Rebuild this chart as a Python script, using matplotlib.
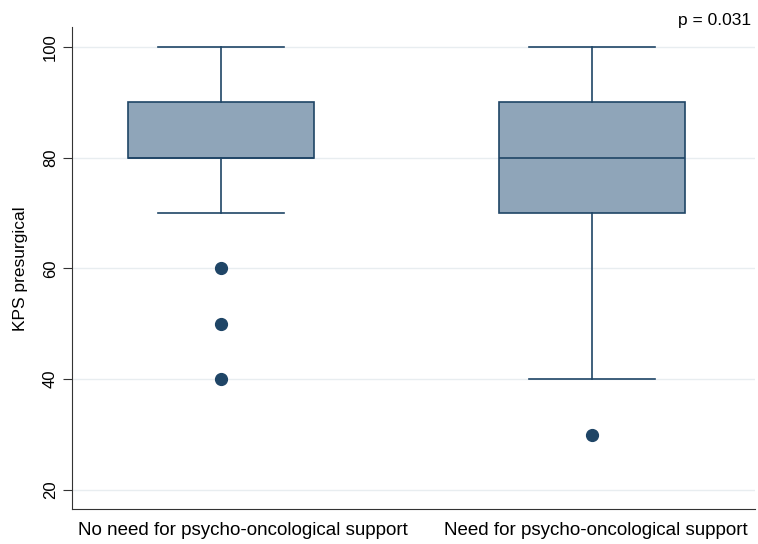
import matplotlib.pyplot as plt

plt.rcParams['font.family'] = ['Liberation Sans', 'DejaVu Sans']

groups = ['No need for psycho-oncological support', 'Need for psycho-oncological support']
whislo = [70, 40]
q1 = [80, 70]
med = [80, 80]
q3 = [90, 90]
whishi = [100, 100]
fliers = [[60, 50, 40], [30]]

stats = []
for i, g in enumerate(groups):
    stats.append(dict(label=g, whislo=whislo[i], q1=q1[i], med=med[i],
                      q3=q3[i], whishi=whishi[i], fliers=fliers[i]))

navy = '#1f4566'
fig = plt.figure(figsize=(7.58, 5.44), dpi=100)
ax = fig.add_axes([0.095, 0.0638, 0.901, 0.886])

ax.bxp(stats, positions=[1, 2], widths=0.5, patch_artist=True,
       boxprops=dict(facecolor='#8fa5b9', edgecolor=navy, linewidth=1.2),
       medianprops=dict(color=navy, linewidth=1.2),
       whiskerprops=dict(color=navy, linewidth=1.2),
       capprops=dict(color=navy, linewidth=1.2),
       capwidths=0.34,
       flierprops=dict(marker='o', markerfacecolor=navy, markeredgecolor=navy,
                       markersize=8.5))

ax.set_xlim(0.598, 2.44)
ax.set_ylim(16.5, 103.55)
ax.set_yticks([20, 40, 60, 80, 100])
# category labels sit a little right of the boxes so the long first one fits
ax.set_xticks([1.06, 2.01], groups)
ax.yaxis.grid(True, color='#e8edf0', linewidth=1)
ax.set_axisbelow(True)
ax.tick_params(axis='y', labelrotation=90, labelsize=12, length=6.5, color='#333333')
for lbl in ax.get_yticklabels():
    lbl.set_va('center')
ax.tick_params(axis='x', length=0, labelsize=13.5, pad=9)
ax.set_ylabel('KPS presurgical', fontsize=12.5, labelpad=11)
ax.spines['top'].set_visible(False)
ax.spines['right'].set_visible(False)
ax.spines['left'].set_color('#333333')
ax.spines['bottom'].set_color('#333333')

fig.text(0.991, 0.963, 'p = 0.031', ha='right', va='center', fontsize=12.5)

fig.savefig('out.png', dpi=100)
